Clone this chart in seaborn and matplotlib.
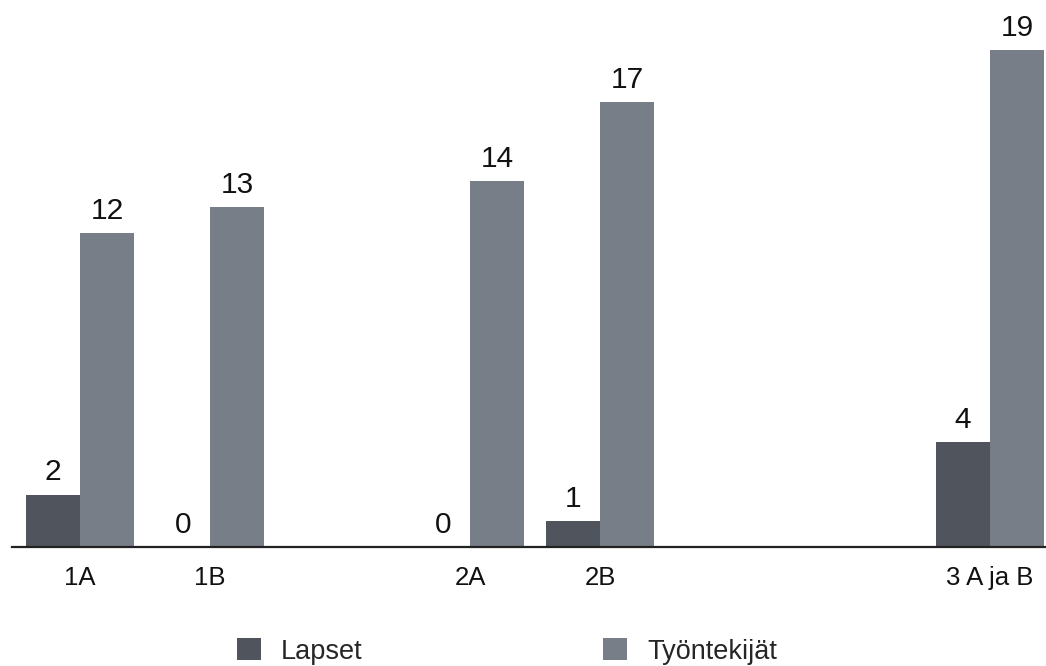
import matplotlib
matplotlib.use("Agg")
import matplotlib.pyplot as plt
import seaborn as sns
import pandas as pd

# Data
groups = ["1A", "1B", "2A", "2B", "3 A ja B"]
lapset = [2, 0, 0, 1, 4]
tyontekijat = [12, 13, 14, 17, 19]
series_names = ["Lapset", "Työntekijät"]
series_colors = ["#50555d", "#787e87"]

# Category order with blank spacer slots between class groups
order = ["1A", "1B", " ", "2A", "2B", "  ", "   ", "3 A ja B"]

df = pd.DataFrame({
    "ryhma": groups * 2,
    "arvo": lapset + tyontekijat,
    "sarja": [series_names[0]] * len(groups) + [series_names[1]] * len(groups),
})

sns.set_style("white")
plt.rcParams["font.family"] = ["Liberation Sans", "DejaVu Sans"]

fig = plt.figure(figsize=(10.46, 6.66), dpi=100)
ax = fig.add_axes([0.0115, 0.1787, 0.9885, 0.8213])

sns.barplot(
    data=df, x="ryhma", y="arvo", hue="sarja",
    order=order, hue_order=series_names,
    palette=series_colors, width=0.83, linewidth=0,
    saturation=1, ax=ax,
)

for cont in ax.containers:
    ax.bar_label(cont, fmt="%d", padding=6, fontsize=21.5, color="#111111")

ax.set_xlim(-0.523, 7.43)
ax.set_ylim(0, 20.92)
ax.set_xlabel("")
ax.set_ylabel("")
ax.set_yticks([])
ax.tick_params(axis="x", length=0, pad=14, labelsize=18.5, colors="#111111")

for side in ["top", "right", "left"]:
    ax.spines[side].set_visible(False)
ax.spines["bottom"].set_color("#222222")
ax.spines["bottom"].set_linewidth(1.6)

sns.move_legend(
    ax, "center", bbox_to_anchor=(0.4847, 14.5 / 666),
    bbox_transform=fig.transFigure,
    ncol=2, frameon=False, title=None, fontsize=19.5,
    handlelength=0.89, handleheight=0.85, handletextpad=0.74,
    columnspacing=8.9, borderpad=0, borderaxespad=0,
)

fig.savefig("out.png", dpi=100)
